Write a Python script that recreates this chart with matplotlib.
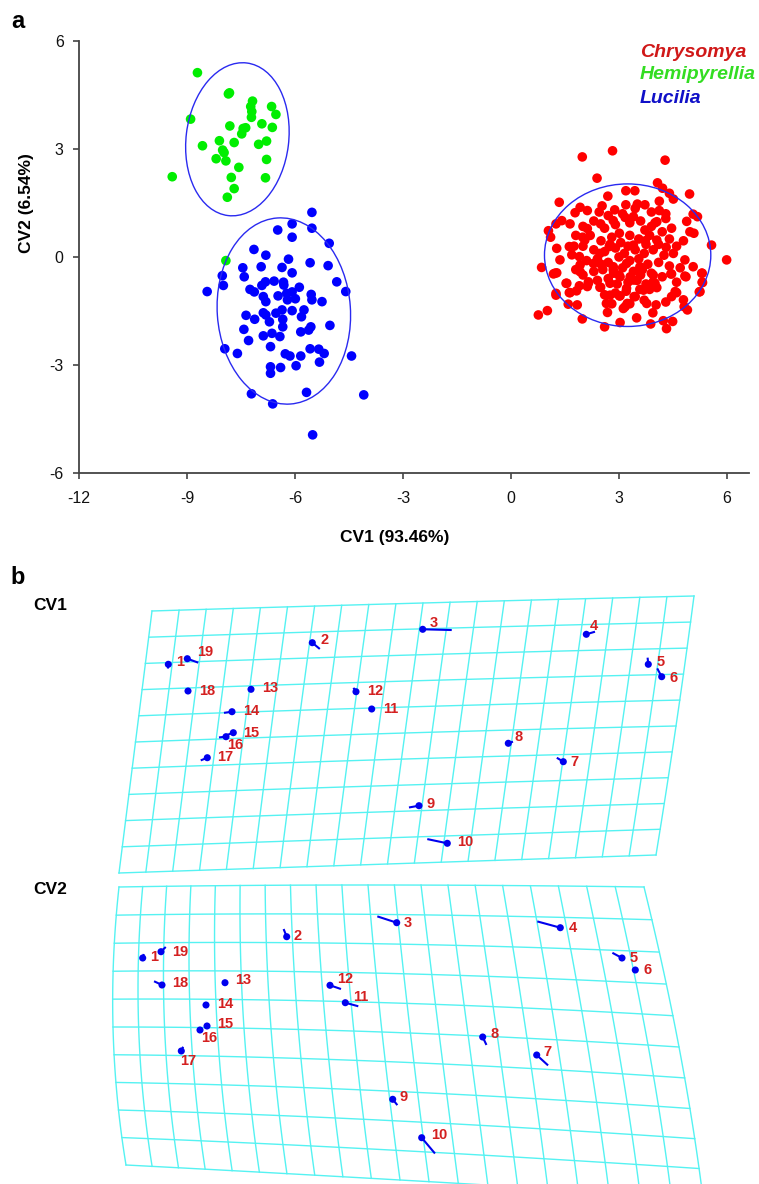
import numpy as np
import matplotlib
matplotlib.use('Agg')
import matplotlib.pyplot as plt
from matplotlib.patches import Ellipse

plt.rcParams['font.family'] = ['Liberation Sans', 'DejaVu Sans']
plt.rcParams['axes.unicode_minus'] = False

W, H = 759, 1184

# ---------------- panel a data (CV scores) ----------------
hemi_x = [-8.71, -7.85, -7.82, -7.18, -7.23, -7.20, -6.65, -6.53, -8.90, -7.21, -7.81, -7.44,
          -7.37, -7.48, -6.92, -6.63, -8.57, -8.10, -7.69, -8.01, -7.01, -6.79, -8.19, -7.92,
          -6.79, -7.56, -9.41, -7.77, -6.82, -7.69, -7.88, -7.92, -7.97]
hemi_y = [5.12, 4.53, 4.56, 4.33, 4.18, 4.04, 4.18, 3.96, 3.83, 3.88, 3.64, 3.57,
          3.59, 3.42, 3.70, 3.60, 3.09, 3.23, 3.18, 2.97, 3.13, 3.22, 2.73, 2.67,
          2.71, 2.49, 2.23, 2.21, 2.20, 1.90, 1.66, -0.10, 2.90]

luc_x = [-5.53, -6.48, -6.08, -5.53, -6.08, -5.05, -7.14, -6.81, -6.18, -5.58, -5.08, -8.02,
         -7.45, -7.41, -6.94, -6.36, -6.08, -7.99, -8.44, -4.84, -4.59, -6.82, -6.92, -6.58,
         -6.32, -6.31, -5.88, -7.25, -7.13, -6.47, -6.23, -6.08, -5.99, -6.21, -6.88, -6.81,
         -5.55, -5.53, -5.25, -6.08, -5.75, -5.82, -6.88, -6.81, -6.53, -6.36, -7.36, -7.12,
         -6.71, -6.34, -6.34, -5.03, -5.56, -5.62, -5.84, -7.42, -6.88, -6.64, -6.42, -7.29,
         -6.68, -7.95, -7.60, -6.27, -6.14, -5.84, -5.58, -5.34, -5.19, -5.32, -4.43, -6.68,
         -6.40, -5.97, -6.68, -7.21, -5.68, -4.09, -6.62, -5.51]
luc_y = [1.24, 0.75, 0.92, 0.80, 0.55, 0.38, 0.21, 0.05, -0.06, -0.16, -0.24, -0.52,
         -0.30, -0.55, -0.27, -0.29, -0.44, -0.79, -0.96, -0.69, -0.96, -0.69, -0.79, -0.67,
         -0.70, -0.78, -0.84, -0.90, -0.97, -1.08, -1.01, -0.97, -1.16, -1.19, -1.10, -1.24,
         -1.04, -1.19, -1.24, -1.49, -1.47, -1.66, -1.55, -1.61, -1.56, -1.47, -1.62, -1.73,
         -1.80, -1.73, -1.94, -1.90, -1.94, -2.03, -2.08, -2.01, -2.19, -2.12, -2.21, -2.32,
         -2.49, -2.55, -2.68, -2.69, -2.75, -2.75, -2.55, -2.56, -2.68, -2.92, -2.75, -3.05,
         -3.07, -3.02, -3.23, -3.80, -3.76, -3.83, -4.08, -4.94]

chry_x = [1.98, 2.82, 4.28, 2.39, 4.07, 4.21, 4.40, 4.51, 4.96, 3.19, 3.44, 2.69, 1.34, 1.92,
          2.12, 1.78, 2.53, 2.88, 3.19, 3.51, 3.72, 4.12, 4.12, 5.06, 5.18, 4.88, 4.46, 1.41,
          1.25, 1.64, 1.04, 1.10, 2.12, 1.99, 2.05, 2.49, 2.84, 3.17, 3.40, 3.72, 4.05, 4.30,
          4.79, 5.08, 4.97, 5.57, 5.99, 0.85, 1.27, 1.36, 1.62, 1.69, 1.90, 1.92, 1.22, 1.55,
          1.25, 1.64, 2.15, 2.49, 2.29, 2.47, 2.73, 3.01, 3.40, 3.73, 4.05, 4.31, 4.51, 4.83,
          5.06, 5.30, 5.32, 4.86, 4.46, 5.23, 4.56, 3.95, 4.00, 2.84, 3.21, 3.58, 3.03, 3.40,
          3.68, 2.75, 3.03, 1.18, 1.27, 1.53, 1.62, 1.82, 1.25, 1.59, 1.84, 0.76, 1.01, 1.98,
          2.60, 2.68, 2.65, 3.03, 3.12, 3.23, 3.49, 3.88, 3.94, 4.03, 3.77, 4.23, 4.32, 4.49,
          4.46, 4.60, 4.79, 4.81, 4.90, 5.25, 5.31, 5.31, 4.44, 4.83, 3.86, 3.95, 3.58, 3.42,
          3.01, 3.17, 2.47, 2.75, 2.15, 2.12, 1.92, 2.84, 3.31, 3.21,
          2.30, 2.60, 2.90, 3.10, 3.30, 3.60, 3.90, 4.20, 2.20, 2.50, 2.80, 3.05, 3.30, 3.55,
          3.85, 4.10, 4.40, 2.30, 2.60, 2.90, 3.15, 3.45, 3.70, 3.95, 4.25, 2.10, 2.40, 2.70,
          3.00, 3.30, 3.55, 3.80, 4.10, 4.40, 2.30, 2.55, 2.85, 3.10, 3.40, 3.65, 3.90, 4.20,
          2.40, 2.70, 2.95, 3.25, 3.50, 3.75, 4.05, 2.60, 2.90, 3.20, 3.45, 3.70, 4.30, 2.80,
          3.30, 2.00, 1.80, 1.75, 2.00, 1.80, 2.00, 1.90, 4.60, 4.70, 4.60, 4.30, 3.90, 2.70,
          2.45, 3.45, 3.75, 3.25, 2.75, 3.60, 3.00, 2.50, 3.85, 4.00]
chry_y = [2.78, 2.95, 2.69, 2.19, 2.06, 1.91, 1.77, 1.61, 1.75, 1.84, 1.84, 1.69, 1.52, 1.38,
          1.29, 1.23, 1.42, 1.31, 1.45, 1.47, 1.45, 1.55, 1.29, 1.19, 1.12, 0.99, 0.80, 1.01,
          0.92, 0.92, 0.73, 0.55, 0.79, 0.55, 0.47, 0.92, 1.01, 1.10, 1.12, 0.75, 0.98, 1.07,
          0.45, 0.66, 0.70, 0.33, -0.08, -0.29, 0.24, -0.08, 0.29, 0.06, 0.01, -0.22, -0.45, -0.73,
          -1.01, -0.99, -0.73, -0.84, -0.18, 0.10, 0.29, 0.66, 0.33, 0.45, 0.47, 0.27, 0.10, -0.08,
          -0.27, -0.45, -0.71, -0.55, -0.47, -0.97, -0.96, -0.50, -0.73, -0.27, -0.18, -0.27, -0.55, -0.64,
          -0.92, -1.06, -1.08, -0.47, -0.44, -0.73, -0.99, -0.94, -1.06, -1.31, -1.33, -1.61, -1.49, -1.72,
          -1.94, -1.54, -1.29, -1.82, -1.43, -1.29, -1.69, -1.86, -1.55, -1.33, -1.29, -1.77, -1.99, -1.79,
          -1.10, -0.99, -1.19, -1.38, -1.47, -0.96, -0.70, -0.45, -0.47, -0.53, -0.82, -0.69, -0.90, -1.10,
          -1.08, -1.38, -0.84, -0.73, -0.69, -0.82, -0.41, -0.36, -0.55, -0.87,
          1.00, 0.80, 0.90, 1.20, 0.95, 1.00, 0.85, 0.70, 0.60, 0.45, 0.55, 0.40, 0.60, 0.50,
          0.60, 0.35, 0.50, 0.20, 0.15, 0.25, 0.10, 0.20, 0.10, 0.20, 0.05, -0.10, -0.05, -0.15,
          0.00, -0.10, -0.05, -0.20, -0.15, -0.25, -0.40, -0.35, -0.45, -0.30, -0.40, -0.35, -0.45, -0.55,
          -0.65, -0.60, -0.75, -0.70, -0.65, -0.75, -0.85, -1.05, -1.00, -0.95, -1.10, -1.20, -1.25, -1.30,
          -1.30, 0.85, 0.60, 0.30, 0.30, -0.35, -0.50, -0.80, 0.30, -0.30, -0.70, 1.20, 1.25, 1.15,
          1.25, 1.35, 0.35, 0.30, 0.35, -0.50, -0.50, -0.20, -0.90, 0.95]

# 95% ellipses: centre x, centre y, width, height, angle
ell_hemi = (-7.60, 3.27, 2.85, 4.27, -7)
ell_luc = (-6.31, -1.50, 3.70, 5.18, 4)
ell_chry = (3.24, 0.05, 4.62, 3.96, 0)

legend_names = ['Chrysomya', 'Hemipyrellia', 'Lucilia']
legend_cols = ['#D01818', '#33DD22', '#1010C8']
legend_y = [5.67, 5.06, 4.39]

x_ticks = [-12, -9, -6, -3, 0, 3, 6]
y_ticks = [-6, -3, 0, 3, 6]

# ---------------- panel b data (landmarks, image units) ----------------
lm_labels = ['1', '2', '3', '4', '5', '6', '7', '8', '9', '10', '11', '12', '13', '14', '15', '16', '17', '18', '19']

cv1_x = [168.3, 312.3, 422.7, 586.3, 648.3, 661.7, 563.3, 508.3, 419.0, 447.3, 371.7, 356.0, 251.0, 232.0, 233.3, 226.0, 207.3, 188.0, 187.3]
cv1_y = [664.3, 642.7, 629.3, 634.3, 664.3, 676.7, 761.7, 743.3, 805.7, 843.3, 709.0, 691.7, 689.3, 711.7, 732.7, 736.7, 757.7, 691.0, 658.7]
cv1_ex = [168.0, 319.0, 450.7, 594.0, 647.7, 657.7, 557.7, 512.0, 410.0, 428.3, 371.0, 354.0, 251.0, 225.0, 227.0, 220.0, 201.7, 188.0, 197.3]
cv1_ey = [667.5, 648.3, 630.0, 632.0, 658.7, 669.3, 758.3, 742.0, 807.3, 839.3, 709.0, 688.7, 689.3, 712.7, 735.0, 737.3, 760.0, 691.0, 662.3]
cv1_lx = [176.0, 320.7, 430.0, 589.3, 656.7, 670.0, 570.0, 514.3, 426.7, 456.7, 382.7, 366.7, 261.7, 242.7, 242.7, 226.7, 217.3, 199.0, 196.7]
cv1_ly = [662.3, 640.0, 623.3, 625.7, 662.0, 677.7, 761.7, 736.7, 804.0, 842.3, 709.3, 690.7, 687.7, 711.0, 732.7, 745.0, 756.7, 691.0, 651.7]

cv2_x = [142.7, 286.7, 396.7, 560.3, 622.0, 635.3, 536.7, 482.7, 392.7, 421.7, 345.3, 330.0, 225.0, 206.0, 207.0, 200.0, 181.3, 162.0, 161.0]
cv2_y = [958.0, 936.7, 922.7, 927.7, 958.0, 970.0, 1055.0, 1037.0, 1099.3, 1137.7, 1002.7, 985.3, 982.7, 1005.0, 1026.0, 1030.0, 1051.0, 985.0, 951.7]
cv2_ex = [143.5, 284.0, 378.3, 538.3, 613.3, 635.3, 547.3, 486.0, 396.7, 434.3, 357.3, 340.0, 225.0, 206.0, 207.0, 200.0, 182.7, 155.0, 165.0]
cv2_ey = [955.0, 930.0, 916.7, 921.7, 953.3, 970.0, 1064.7, 1044.0, 1104.3, 1152.7, 1006.0, 988.7, 982.7, 1005.0, 1026.0, 1030.0, 1047.7, 981.7, 947.7]
cv2_lx = [150.0, 294.0, 403.3, 568.7, 630.0, 643.3, 543.3, 490.7, 400.0, 430.7, 353.3, 337.3, 234.7, 216.7, 216.7, 200.7, 180.0, 171.7, 172.3]
cv2_ly = [957.3, 936.0, 923.3, 927.7, 958.0, 970.0, 1052.3, 1034.3, 1097.3, 1135.0, 997.3, 979.0, 980.0, 1004.0, 1024.0, 1037.7, 1060.7, 983.3, 951.7]

# deformation grid control points (3x3: rows top/mid/bottom, cols left/mid/right)
cv1_ctrl = np.array([[[152, 611], [423, 603], [694, 596]],
                     [[135.5, 742], [405, 733], [676, 726]],
                     [[119, 873], [387.5, 864], [656, 855]]], dtype=float)
cv2_ctrl = np.array([[[119, 887], [368, 885], [644, 887]],
                     [[113, 1027], [382, 1032], [679, 1047]],
                     [[126, 1165], [400, 1180], [703, 1198]]], dtype=float)
n_cols, n_rows = 20, 10


def basis(t):
    return np.array([2 * (t - 0.5) * (t - 1), -4 * t * (t - 1), 2 * t * (t - 0.5)])


def warp(ctrl, u, v):
    bu = basis(u)
    bv = basis(v)
    return np.einsum('j...,i...,jik->...k', bv, bu, ctrl)


def draw_grid(ax, ctrl):
    t = np.linspace(0, 1, 120)
    for k in range(n_cols + 1):
        pts = warp(ctrl, np.full_like(t, k / n_cols), t)
        ax.plot(pts[:, 0], pts[:, 1], color='#55F2F2', lw=1.0, zorder=1)
    for m in range(n_rows + 1):
        pts = warp(ctrl, t, np.full_like(t, m / n_rows))
        ax.plot(pts[:, 0], pts[:, 1], color='#55F2F2', lw=1.0, zorder=1)


fig = plt.figure(figsize=(W / 100, H / 100), dpi=100)

# ---- panel a ----
x_lo, x_hi = -12, 6.6
ax = fig.add_axes([79 / W, 1 - 473 / H, (x_hi - x_lo) * 36 / W, 432 / H])
ax.set_xlim(x_lo, x_hi)
ax.set_ylim(-6, 6)
ax.scatter(chry_x, chry_y, s=48, color='#FF0000', edgecolors='none', zorder=2)
ax.scatter(luc_x, luc_y, s=48, color='#0000FF', edgecolors='none', zorder=3)
ax.scatter(hemi_x, hemi_y, s=48, color='#00EE00', edgecolors='none', zorder=4)
for cx, cy, w, h, a in [ell_hemi, ell_luc, ell_chry]:
    ax.add_patch(Ellipse((cx, cy), w, h, angle=a, fill=False, edgecolor='#2A2AF0', lw=1.0, zorder=5))
for name, col, yy in zip(legend_names, legend_cols, legend_y):
    ax.text(3.58, yy, name, color=col, fontsize=14, fontweight='bold', style='italic', va='center', ha='left')

ax.set_xticks(x_ticks)
ax.set_yticks(y_ticks)
ax.spines['top'].set_visible(False)
ax.spines['right'].set_visible(False)
for s in ['left', 'bottom']:
    ax.spines[s].set_color('#444444')
    ax.spines[s].set_linewidth(1.3)
ax.tick_params(axis='both', colors='#444444', length=4, width=1.2, labelsize=11.5, labelcolor='#111111')
ax.tick_params(axis='x', pad=9)
ax.tick_params(axis='y', pad=7)

fig.text(395 / W, 1 - 537 / H, 'CV1 (93.46%)', fontsize=12.5, fontweight='bold', ha='center', va='center')
fig.text(27 / W, 1 - 203 / H, 'CV2 (6.54%)', fontsize=12.5, fontweight='bold', ha='center', va='center', rotation=90)
fig.text(18 / W, 1 - 22 / H, 'a', fontsize=17, fontweight='bold', ha='center', va='center')
fig.text(18 / W, 1 - 578 / H, 'b', fontsize=17, fontweight='bold', ha='center', va='center')

# ---- panel b ----
axb = fig.add_axes([0, 0, 1, 1], zorder=-1)
axb.set_xlim(0, W)
axb.set_ylim(H, 0)
axb.axis('off')

for ctrl, xs, ys, exs, eys, lxs, lys in [
        (cv1_ctrl, cv1_x, cv1_y, cv1_ex, cv1_ey, cv1_lx, cv1_ly),
        (cv2_ctrl, cv2_x, cv2_y, cv2_ex, cv2_ey, cv2_lx, cv2_ly)]:
    draw_grid(axb, ctrl)
    for x0, y0, x1, y1 in zip(xs, ys, exs, eys):
        axb.plot([x0, x1], [y0, y1], color='#0000EE', lw=1.5, zorder=3)
    axb.scatter(xs, ys, s=26, color='#0000EE', edgecolors='none', zorder=4)
    for lab, lx, ly in zip(lm_labels, lxs, lys):
        axb.text(lx, ly, lab, color='#D42020', fontsize=10.5, fontweight='bold', ha='left', va='center', zorder=5)

axb.text(33, 606, 'CV1', fontsize=12.5, fontweight='bold', ha='left', va='center')
axb.text(33, 890, 'CV2', fontsize=12.5, fontweight='bold', ha='left', va='center')

fig.savefig('out.png', dpi=100)
